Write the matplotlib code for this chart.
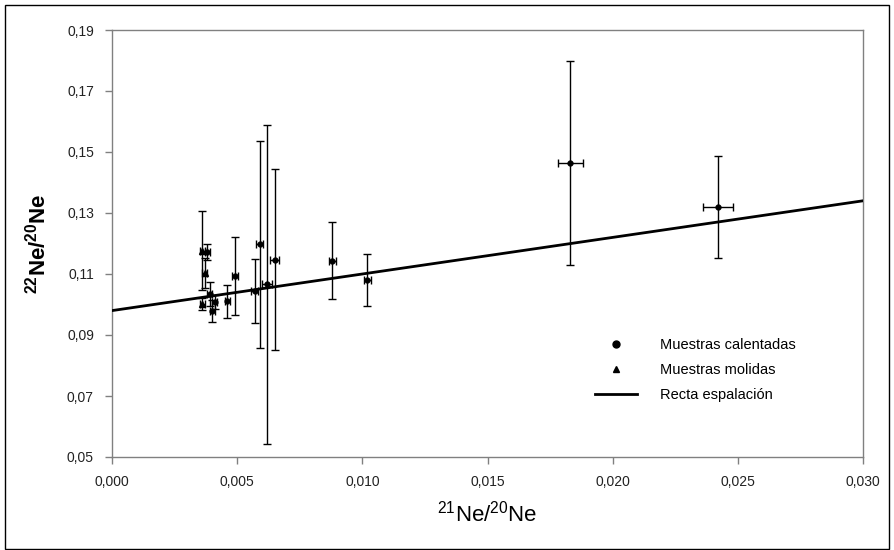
import matplotlib.pyplot as plt
from matplotlib.lines import Line2D
from matplotlib.patches import Rectangle
from matplotlib.ticker import FuncFormatter
import numpy as np

plt.rcParams['font.family'] = ['Liberation Sans', 'DejaVu Sans']
plt.rcParams['mathtext.default'] = 'regular'

# muestras calentadas
cal_x = [0.0183, 0.0242, 0.0088, 0.0102, 0.0065, 0.0062, 0.0059, 0.0057, 0.0049, 0.0046,
         0.0039, 0.0041, 0.0040, 0.0038]
cal_y = [0.1465, 0.1320, 0.1144, 0.1080, 0.1147, 0.1066, 0.1197, 0.1045, 0.1093, 0.1010,
         0.1035, 0.1008, 0.0980, 0.1172]
cal_yerr = [0.0335, 0.0168, 0.0125, 0.0085, 0.0296, 0.0522, 0.0338, 0.0105, 0.0128, 0.0053,
            0.0040, 0.0022, 0.0036, 0.0025]
cal_xerr = [0.0005, 0.0006, 0.00015, 0.00015, 0.00018, 0.0002, 0.00015, 0.00015, 0.00012, 0.0001,
            0.0001, 0.0001, 0.0001, 0.0001]

# muestras molidas
mol_x = [0.0036, 0.0037, 0.0036]
mol_y = [0.1177, 0.1103, 0.1002]
mol_yerr = [0.0130, 0.0050, 0.0020]
mol_xerr = [0.0001, 0.0001, 0.0001]

# recta de espalacion
intercept = 0.098
slope = 1.2
x_line = [0.0, 0.030]

fig = plt.figure(figsize=(8.94, 5.5), dpi=100)
ax = fig.add_axes([112 / 894, 1 - 457 / 550, 751 / 894, 427 / 550])

ax.errorbar(cal_x, cal_y, yerr=cal_yerr, xerr=cal_xerr, fmt='none', ecolor='black',
            elinewidth=1, capsize=2.8, capthick=1, zorder=2)
ax.errorbar(mol_x, mol_y, yerr=mol_yerr, xerr=mol_xerr, fmt='none', ecolor='black',
            elinewidth=1, capsize=2.8, capthick=1, zorder=2)
ax.plot(cal_x, cal_y, 'o', color='black', markersize=3.5, zorder=3)
ax.plot(mol_x, mol_y, '^', color='black', markersize=5, zorder=3)
ax.plot(x_line, [intercept + slope * x for x in x_line], '-', color='black', lw=2, zorder=4)

ax.set_xlim(0, 0.030)
ax.set_ylim(0.05, 0.19)
ax.set_xticks(np.arange(0, 0.0301, 0.005))
ax.set_yticks(np.arange(0.05, 0.1901, 0.02))
ax.xaxis.set_major_formatter(FuncFormatter(lambda v, p: ('%.3f' % v).replace('.', ',')))
ax.yaxis.set_major_formatter(FuncFormatter(lambda v, p: ('%.2f' % v).replace('.', ',')))
ax.tick_params(direction='out', length=5, width=1, color='#808080', labelsize=10,
               labelcolor='#222222', pad=8)
for s in ax.spines.values():
    s.set_color('#808080')
    s.set_linewidth(1)

ax.set_xlabel(r'$^{21}$Ne/$^{20}$Ne', fontsize=16, labelpad=8)
ax.set_ylabel(r'$^{22}$Ne/$^{20}$Ne', fontsize=16, fontweight='bold', labelpad=12)

handles = [Line2D([], [], ls='none', marker='o', color='black', markersize=5),
           Line2D([], [], ls='none', marker='^', color='black', markersize=5),
           Line2D([], [], ls='-', color='black', lw=2)]
labels = ['Muestras calentadas', 'Muestras molidas', 'Recta espalación']
ax.legend(handles, labels, loc='upper left', bbox_to_anchor=(0.625, 0.31), frameon=False,
          fontsize=10.5, handlelength=2.9, handletextpad=1.6, labelspacing=0.75)

fig.patches.append(Rectangle((5 / 894, 1 / 550), 884 / 894, 544 / 550, transform=fig.transFigure,
                             fill=False, edgecolor='black', lw=1))

fig.savefig('out.png', dpi=100)
